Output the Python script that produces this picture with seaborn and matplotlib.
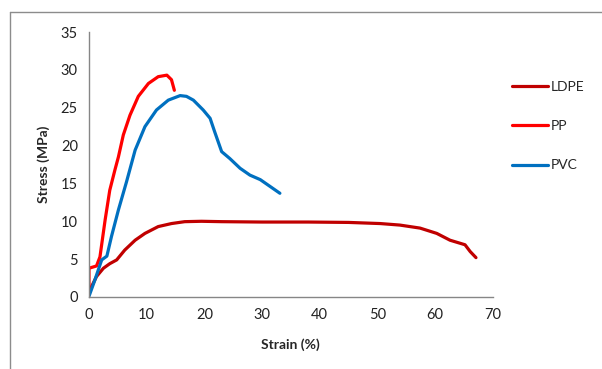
import numpy as np
import pandas as pd
import matplotlib
matplotlib.use("Agg")
import matplotlib.pyplot as plt
import seaborn as sns
from matplotlib.lines import Line2D

# Tensile curves
ldpe_strain = [0, 1.3, 2.5, 3.6, 4.8, 6.2, 8.0, 9.7, 12.0, 14.3, 16.6, 19.5, 23, 30, 38,
               45, 50.5, 53.9, 57.4, 60.3, 62.6, 65.2, 66.1, 67.1]
ldpe_stress = [0.7, 2.7, 3.8, 4.4, 4.9, 6.2, 7.5, 8.4, 9.3, 9.7, 9.95, 10.0, 9.95, 9.9, 9.9,
               9.85, 9.7, 9.5, 9.1, 8.4, 7.5, 6.9, 6.0, 5.2]

pp_strain = [0, 0, 1.3, 1.9, 2.8, 3.6, 4.5, 5.1, 5.95, 7.1, 8.55, 10.3, 12.0, 13.5, 14.3, 14.8]
pp_stress = [1.0, 3.8, 4.1, 5.3, 10.2, 14.1, 16.8, 18.5, 21.4, 24.0, 26.5, 28.2, 29.1, 29.3,
             28.7, 27.3]

pvc_strain = [0, 1.0, 2.2, 3.1, 3.9, 5.1, 6.5, 8.0, 9.7, 11.7, 13.75, 15.8, 16.9, 18.1, 19.8,
              21.0, 21.8, 23.0, 24.4, 26.2, 27.9, 29.7, 31.4, 33.1]
pvc_stress = [0.1, 2.2, 4.9, 5.4, 8.0, 11.5, 15.2, 19.4, 22.5, 24.7, 26.0, 26.6, 26.5, 26.0,
              24.7, 23.6, 21.8, 19.2, 18.3, 17.0, 16.1, 15.5, 14.6, 13.7]

materials = ["LDPE", "PP", "PVC"]
colors = {"LDPE": "#C00000", "PP": "#FF0000", "PVC": "#0070C0"}

frames = []
for name, xs, ys in [("LDPE", ldpe_strain, ldpe_stress),
                     ("PP", pp_strain, pp_stress),
                     ("PVC", pvc_strain, pvc_stress)]:
    frames.append(pd.DataFrame({"strain": xs, "stress": ys, "material": name}))
df = pd.concat(frames, ignore_index=True)

sns.set_style("white")
plt.rcParams["font.family"] = ["Lato", "DejaVu Sans"]

W, H = 602, 369
fig = plt.figure(figsize=(W / 100, H / 100), dpi=100)
ax = fig.add_axes([89 / W, 1 - 297 / H, (492.7 - 89) / W, (297 - 32) / H])

for name in materials:
    sub = df[df["material"] == name]
    sns.lineplot(data=sub, x="strain", y="stress", color=colors[name], sort=False,
                 estimator=None, linewidth=2.3, ax=ax, legend=False)
    ax.lines[-1].set_solid_capstyle("round")
    ax.lines[-1].set_solid_joinstyle("round")

ax.set_xlim(0, 70)
ax.set_ylim(0, 35)
ax.set_xticks(np.arange(0, 71, 10))
ax.set_yticks(np.arange(0, 36, 5))
for side in ["top", "right"]:
    ax.spines[side].set_visible(False)
for side in ["left", "bottom"]:
    ax.spines[side].set_color("#868686")
    ax.spines[side].set_linewidth(1.0)
ax.tick_params(axis="both", direction="out", length=4, width=1, color="#868686",
               labelsize=10.5, labelcolor="#222222", pad=4)
ax.grid(False)

ax.set_xlabel("Strain (%)", fontsize=10, fontweight="bold", labelpad=12)
ax.set_ylabel("Stress (MPa)", fontsize=10, fontweight="bold", labelpad=8)

handles = [Line2D([0], [0], color=colors[m], lw=2.3) for m in materials]
fig.legend(handles, materials, loc="center left", bbox_to_anchor=(505 / W, 1 - 126 / H),
           frameon=False, fontsize=10, handlelength=2.6, handletextpad=0.2,
           labelspacing=1.97, borderpad=0)

# outer chart frame (top and left edges visible)
fig.add_artist(Line2D([10 / W, 1], [1 - 12 / H, 1 - 12 / H], color="#8c8c8c", lw=1))
fig.add_artist(Line2D([10 / W, 10 / W], [0, 1 - 12 / H], color="#8c8c8c", lw=1))

fig.savefig("out.png", dpi=100)
